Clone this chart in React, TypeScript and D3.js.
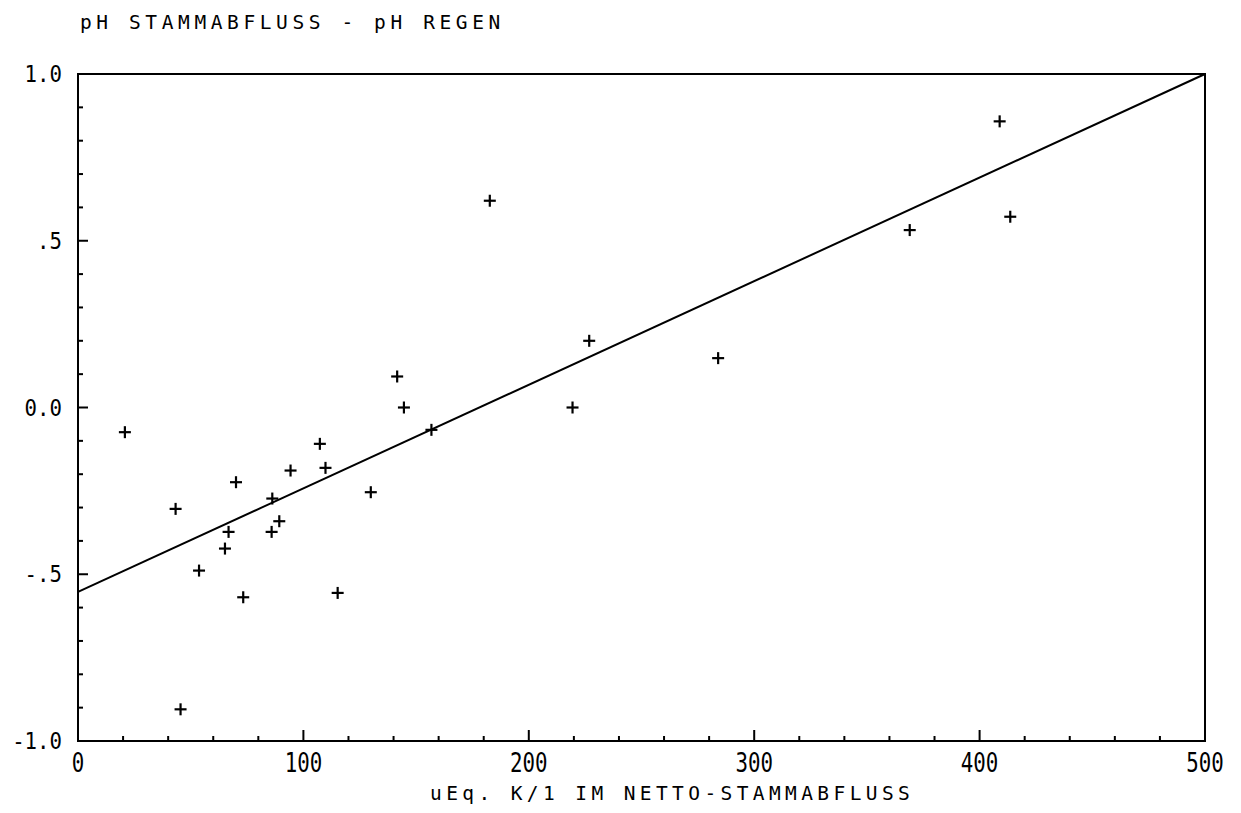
import React from "react";
import * as d3 from "d3";

// Data (x: uEq K/l im Netto-Stammabfluss, y: pH Stammabfluss - pH Regen)
const pointX = [20.8, 43.3, 45.5, 53.7, 65.2, 66.8, 70.1, 73.3, 86.2, 85.9, 89.3, 94.3, 107.3, 109.8, 115.2, 129.9, 144.6, 141.6, 156.8, 182.7, 219.4, 226.8, 284, 369, 408.9, 413.6];
const pointY = [-0.074, -0.304, -0.905, -0.489, -0.423, -0.373, -0.224, -0.569, -0.273, -0.373, -0.341, -0.189, -0.109, -0.181, -0.556, -0.254, 0.0, 0.093, -0.067, 0.62, 0.0, 0.2, 0.148, 0.532, 0.858, 0.572];
const lineX = [0, 500];
const lineY = [-0.553, 1.0];
const xTickValues = [0, 100, 200, 300, 400, 500];
const xTickLabels = ["0", "100", "200", "300", "400", "500"];
const yTickValues = [1.0, 0.5, 0.0, -0.5, -1.0];
const yTickLabels = ["1.0", ".5", "0.0", "-.5", "-1.0"];
const title = "pH STAMMABFLUSS - pH REGEN";
const xTitle = "uEq. K/1 IM NETTO-STAMMABFLUSS";

const W = 1241;
const H = 813;
const left = 78;
const right = 1205;
const top = 74;
const bottom = 741;

export default function App() {
  const x = d3.scaleLinear().domain([0, 500]).range([left, right]);
  const y = d3.scaleLinear().domain([-1, 1]).range([bottom, top]);
  const xMinor = d3.range(0, 501, 20);
  const yMinor = d3.range(-10, 11, 1).map((v) => v / 10);
  const line = d3
    .line<number>()
    .x((_, i) => x(lineX[i]))
    .y((_, i) => y(lineY[i]));
  const mono = "'DejaVu Sans Mono', monospace";
  const s = 6;
  return (
    <svg
      width={W}
      height={H}
      style={{ position: "absolute", left: 0, top: 0, background: "#fff" }}
    >
      <text x={80} y={29} fontFamily={mono} fontSize={19.5} letterSpacing={4.6} fill="#000">
        {title}
      </text>
      {/* frame */}
      <rect x={left} y={top} width={right - left} height={bottom - top} fill="none" stroke="#000" strokeWidth={2} />
      {/* x ticks */}
      {xMinor.map((v) => {
        const major = v % 100 === 0;
        return (
          <line key={"xt" + v} x1={x(v)} x2={x(v)} y1={bottom} y2={bottom - (major ? 11 : 5)} stroke="#000" strokeWidth={2} />
        );
      })}
      {yMinor.map((v, i) => {
        const major = Math.abs((v * 10) % 5) < 1e-6;
        return (
          <line key={"yt" + i} x1={left} x2={left + (major ? 10 : 5)} y1={y(v)} y2={y(v)} stroke="#000" strokeWidth={2} />
        );
      })}
      {xTickValues.map((v, i) => (
        <text
          key={"xl" + v}
          transform={`translate(${x(v)},772) scale(0.8,1)`}
          textAnchor="middle"
          fontFamily={mono}
          fontSize={26}
          fill="#000"
        >
          {xTickLabels[i]}
        </text>
      ))}
      {yTickValues.map((v, i) => (
        <text
          key={"yl" + v}
          transform={`translate(62,${y(v) + 8}) scale(0.9,1)`}
          textAnchor="end"
          fontFamily={mono}
          fontSize={23}
          fill="#000"
        >
          {yTickLabels[i]}
        </text>
      ))}
      <text x={430} y={800} fontFamily={mono} fontSize={19.5} letterSpacing={4.4} fill="#000">
        {xTitle}
      </text>
      {/* regression line */}
      <path d={line(lineX) || ""} fill="none" stroke="#000" strokeWidth={2} />
      {/* points */}
      {pointX.map((px, i) => (
        <g key={"p" + i} transform={`translate(${x(px)},${y(pointY[i])})`}>
          <line x1={-s} x2={s} y1={0} y2={0} stroke="#000" strokeWidth={2.2} />
          <line x1={0} x2={0} y1={-s} y2={s} stroke="#000" strokeWidth={2.2} />
        </g>
      ))}
    </svg>
  );
}
